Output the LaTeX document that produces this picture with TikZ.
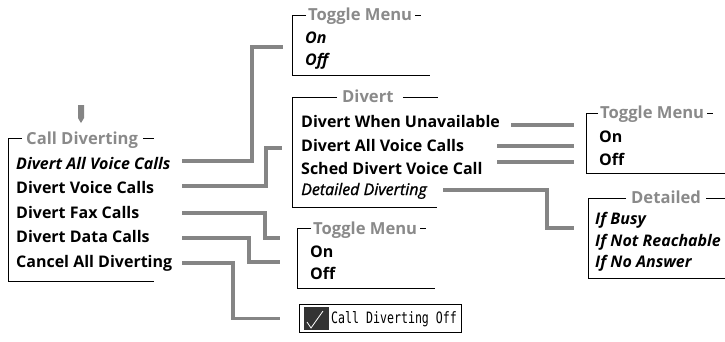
\documentclass[tikz,border=0pt]{standalone}
\usepackage{fontspec}
\setmainfont{Open Sans}
\newfontfamily\monofnt{DejaVu Sans Mono}
\definecolor{conngray}{HTML}{858585}
\definecolor{titlegray}{HTML}{8A8A8A}
\definecolor{boxdark}{HTML}{333333}
\begin{document}
\begin{tikzpicture}[x=1pt,y=-1pt,
  conn/.style={draw=conngray,line width=3.6pt},
  frame/.style={draw=black,line width=0.9pt},
  ttl/.style={anchor=base west,inner sep=0,font=\fontsize{16.6}{18}\selectfont\bfseries,text=titlegray},
  itm/.style={anchor=base west,inner sep=0,font=\fontsize{16}{18}\selectfont\bfseries},
  itmbi/.style={anchor=base west,inner sep=0,font=\fontsize{16}{18}\selectfont\bfseries\itshape},
  itmi/.style={anchor=base west,inner sep=0,font=\fontsize{16}{18}\selectfont\itshape\addfontfeature{FakeBold=1.2}},
]
\useasboundingbox (0,0) rectangle (725,341);

% ---------- main menu ----------
\fill[conngray] (78,105) -- (84,105) -- (84,118) -- (81,123) -- (78,118) -- cycle;
\node[ttl] (tmain) at (26,144) {Call Diverting};
\draw[frame] (22,138) -- (8,138) -- (8,281) -- (154,281);
\draw[frame] ([xshift=5pt]tmain.east |- 0,138) -- (154,138);
\node[itmbi] (dav) at (16,169) {Divert All Voice Calls};
\node[itm] (dvc) at (16,193.5) {Divert Voice Calls};
\node[itm] (dfc) at (16,218.5) {Divert Fax Calls};
\node[itm] (ddc) at (16,242.5) {Divert Data Calls};
\node[itm] (cad) at (16,267) {Cancel All Diverting};

% ---------- toggle menu top ----------
\node[ttl] (ttop) at (308,20.5) {Toggle Menu};
\draw[frame] (306,15) -- (292,15) -- (292,75) -- (430,75);
\draw[frame] ([xshift=3pt]ttop.east |- 0,15) -- ++(6,0);
\node[itmbi] (on1) at (305,43.5) {On};
\node[itmbi] (off1) at (305,65.5) {Off};

% ---------- divert submenu ----------
\node[ttl] (tdiv) at (342,102.5) {Divert};
\draw[frame] (337,97) -- (292,97) -- (292,207) -- (437,207);
\draw[frame] ([xshift=9pt]tdiv.east |- 0,97) -- (438,97);
\node[itm] (unav) at (301,127.5) {Divert When Unavailable};
\node[itm] (davs) at (301,151) {Divert All Voice Calls};
\node[itm] (sched) at (301,174) {Sched Divert Voice Call};
\node[itmi] (ddiv) at (301,195) {Detailed Diverting};

% ---------- toggle menu lower ----------
\node[ttl] (tlow) at (313,234.5) {Toggle Menu};
\draw[frame] (311,228) -- (297,228) -- (297,288) -- (435,288);
\draw[frame] ([xshift=3pt]tlow.east |- 0,228) -- ++(6,0);
\node[itm] (on2) at (310,257) {On};
\node[itm] (off2) at (310,279) {Off};

% ---------- toggle menu right ----------
\node[ttl] (tright) at (600,118.5) {Toggle Menu};
\draw[frame] (598,113) -- (586,113) -- (586,173) -- (725,173);
\draw[frame] ([xshift=3pt]tright.east |- 0,113) -- ++(6,0);
\node[itm] (on3) at (599,142.5) {On};
\node[itm] (off3) at (599,165) {Off};

% ---------- detailed ----------
\node[ttl] (tdet) at (631,203.5) {Detailed};
\draw[frame] (626,198) -- (588,198) -- (588,278) -- (725,278);
\draw[frame] ([xshift=5pt]tdet.east |- 0,198) -- (725,198);
\node[itmbi] (busy) at (595,224) {If Busy};
\node[itmbi] (nreach) at (595,246) {If Not Reachable};
\node[itmbi] (noans) at (595,267.5) {If No Answer};

% ---------- status box ----------
\node[draw,line width=0.8pt,minimum width=162pt,minimum height=28pt,inner sep=0,anchor=north west] (status) at (299,304) {};
\fill[boxdark] (304,307) rectangle (329,330);
\draw[white,line width=0.8pt] (307,322) -- (311,328) -- (323,311);
\node[anchor=west,inner sep=0,font=\monofnt\fontsize{11.6}{12}\selectfont] (stxt) at (331,319) {\scalebox{1}[1.35]{Call Diverting Off}};

% ---------- connectors ----------
\coordinate (mcol) at (182,0);
\coordinate (dcol) at (497,0);
\coordinate (e1) at (283,47);
\coordinate (e2) at (282,148);
\coordinate (e3) at (280,238);
\coordinate (e4) at (280,262);
\coordinate (r1) at (574,125);
\coordinate (r2) at (574,146);
\coordinate (r3) at (574,162);
\coordinate (e9) at (574,228);

\draw[conn] ([yshift=8pt]dav.base east -| mcol) -- ++(70,0) |- (e1);
\draw[conn] ([yshift=7.5pt]dvc.base east -| mcol) -- ++(84,0) |- (e2);
\draw[conn] ([yshift=5.5pt]dfc.base east -| mcol) -- ++(83,0) |- (e3);
\draw[conn] ([yshift=4.5pt]ddc.base east -| mcol) -- ++(67,0) |- (e4);
\draw[conn] ([yshift=4pt]cad.base east -| mcol) -- ++(51,0) |- ([xshift=-19pt]status.west);
\draw[conn] ([xshift=11pt]unav.east |- r1) -- (r1);
\draw[conn] (dcol |- r2) -- (r2);
\draw[conn] (dcol |- r3) -- (r3);
\draw[conn] ([xshift=16pt,yshift=5pt]ddiv.base east) -- ++(104,0) |- (e9);
\end{tikzpicture}
\end{document}
